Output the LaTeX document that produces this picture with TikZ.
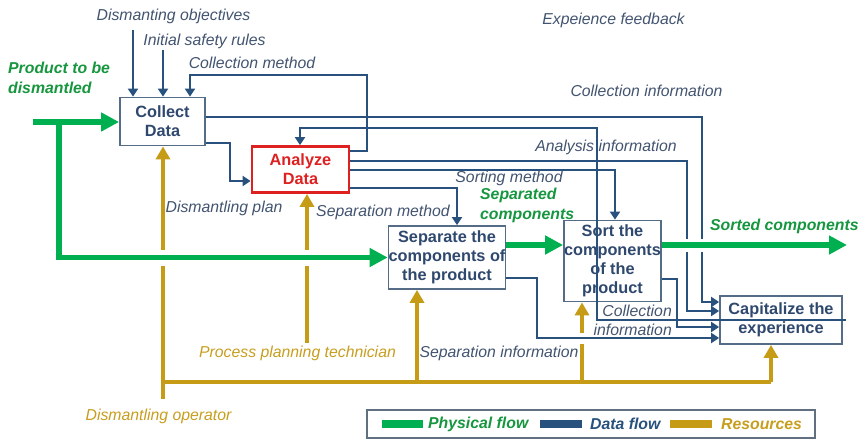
\documentclass[tikz,border=0pt]{standalone}
\usepackage{fontspec}
\setmainfont{Liberation Sans}
\usetikzlibrary{arrows.meta}
\definecolor{dblue}{RGB}{40,82,125}
\definecolor{labc}{RGB}{66,84,112}
\definecolor{boxc}{RGB}{84,108,134}
\definecolor{boxtext}{RGB}{47,72,110}
\definecolor{gline}{RGB}{0,176,80}
\definecolor{gtext}{RGB}{22,150,62}
\definecolor{gold}{RGB}{198,155,22}
\definecolor{goldtext}{RGB}{200,158,30}
\definecolor{redc}{RGB}{222,32,32}
\definecolor{legc}{RGB}{96,112,128}
\tikzset{
  lab/.style={font=\itshape\fontsize{15.8}{19}\selectfont, text=labc, inner sep=0pt},
  glab/.style={font=\bfseries\itshape\fontsize{15.8}{20}\selectfont, text=gtext, inner sep=0pt, align=left},
  rlab/.style={font=\itshape\fontsize{15.8}{19}\selectfont, text=goldtext, inner sep=0pt},
  box/.style={draw=boxc, line width=1.8pt, fill=white, align=center,
    font=\bfseries\fontsize{16.3}{19}\selectfont, text=boxtext, inner sep=0pt},
  data/.style={draw=dblue, line width=2.7pt, -{Triangle[length=8pt,width=10pt]}},
  res/.style={draw=gold, line width=4pt, -{Triangle[length=13pt,width=14pt]}},
  resline/.style={draw=gold, line width=4pt},
  phys/.style={draw=gline, line width=5.5pt, -{Triangle[length=18pt,width=18pt]}},
  legtext/.style={font=\bfseries\itshape\fontsize{15.8}{19}\selectfont, inner sep=0pt, anchor=west},
}
\begin{document}
\begin{tikzpicture}[x=1pt,y=-1pt]
\useasboundingbox (0,0) rectangle (860,439);
\fill[white] (0,0) rectangle (860,439);

% boxes
\node[box, minimum width=85pt, minimum height=48pt] (collect) at (162.5,121.5) {Collect\\Data};
\node[box, draw=redc, line width=2.8pt, text=redc, minimum width=97pt, minimum height=46pt] (analyze) at (300.5,169.5) {Analyze\\Data};
\node[box, minimum width=116pt, minimum height=63pt] (separate) at (447,257.5) {Separate the\\components of\\the product};
\node[box, minimum width=95pt, minimum height=81pt] (sort) at (612.5,261) {Sort the\\components\\of the\\product};
\node[box, minimum width=122pt, minimum height=48pt] (cap) at (781,320) {Capitalize the\\experience};

% coordinates
\coordinate (obj) at (133,30);
\coordinate (isr) at (163,50);
\coordinate (cm1) at (367,151);
\coordinate (cm2) at (190,75);
\coordinate (ci1) at (702,117);
\coordinate (ci2) at (702,302);
\coordinate (fb0) at (846,320);
\coordinate (fb1) at (597,128);
\coordinate (fb2) at (300,128);
\coordinate (ai1) at (687,161);
\coordinate (ai2) at (687,311);
\coordinate (sm1) at (615,170);
\coordinate (sp1) at (457,188);
\coordinate (ca1) at (230,143);
\coordinate (ca2) at (230,181);
\coordinate (si1) at (537,278);
\coordinate (si2) at (537,338);
\coordinate (sc1) at (677,279);
\coordinate (sc2) at (677,327);
\coordinate (op) at (163,399);
\coordinate (r1) at (163,382);
\coordinate (r2) at (771,382);
\coordinate (r3) at (417,382);
\coordinate (r4) at (582,382);
\coordinate (ppt) at (307,343);
\coordinate (g0) at (33,122);
\coordinate (g1) at (59,122);
\coordinate (g2) at (59,257.5);
\coordinate (g3) at (505,245);
\coordinate (g4) at (847,245);

% data flows
\draw[data] (obj) -- (obj |- collect.north);
\draw[data] (isr) -- (isr |- collect.north);
\draw[data] (analyze.east |- cm1) -- (cm1) |- (cm2) -- (cm2 |- collect.north);
\draw[data] (collect.east |- ci1) -- (ci1) -- (ci2) -- (cap.west |- ci2);
\draw[data] (analyze.east |- ai1) -- (ai1) -- (ai2) -- (cap.west |- ai2);
\draw[data] (analyze.east |- sm1) -- (sm1) -- (sm1 |- sort.north);
\draw[data] (analyze.east |- sp1) -- (sp1) -- (sp1 |- separate.north);
\draw[data] (collect.east |- ca1) -- (ca1) -- (ca2) -- (analyze.west |- ca2);
\draw[data] (sort.east |- sc1) -- (sc1) -- (sc2) -- (cap.west |- sc2);

% resources
\draw[res] (op) -- (op |- collect.south);
\draw[resline] (r1) -- (r2);
\draw[res] (r2) -- (r2 |- cap.south);
\draw[res] (r3) -- (r3 |- separate.south);
\draw[res] (r4) -- (r4 |- sort.south);
\draw[res] (ppt) -- (ppt |- analyze.south);

% separation information (over resources, with gap)
\draw[data, preaction={draw=white, line width=11pt, arrows=-, shorten <=6pt, shorten >=14pt}]
  (separate.east |- si1) -- (si1) -- (si2) -- (cap.west |- si2);

% feedback
\draw[data] (fb0) -- (fb0 -| fb1) -- (fb1) -- (fb2) -- (fb2 |- analyze.north);

% physical flows
\draw[phys, preaction={draw=white, line width=16pt, arrows=-, shorten <=40pt, shorten >=24pt}]
  (g1) -- (g2) -- (separate.west);
\draw[phys] (g0) -- (collect.west |- g0);
\draw[phys] (separate.east |- g3) -- (sort.west |- g3);
\draw[phys, preaction={draw=white, line width=13pt, arrows=-, shorten <=8pt, shorten >=24pt}]
  (sort.east |- g4) -- (g4);

% labels
\node[lab] (l1) at (173.5,16) {Dismanting objectives};
\node[lab] (l2) at (204.5,41) {Initial safety rules};
\node[lab] (l3) at (252,63) {Collection method};
\node[lab] (l4) at (613.5,20) {Expeience feedback};
\node[lab] (l5) at (646.5,91) {Collection information};
\node[lab] (l6) at (606,147) {Analysis information};
\node[lab] (l7) at (509,178) {Sorting method};
\node[lab] (l8) at (383,212) {Separation method};
\node[lab] (l9) at (224,208) {Dismantling plan};
\node[lab, align=right, anchor=east] (l10) at (672,320.5) {Collection\\information};
\node[lab] (l11) at (499,353) {Separation information};
\node[rlab] (l12) at (297.5,353) {Process planning technician};
\node[rlab] (l13) at (158.5,416) {Dismantling operator};
\node[glab, anchor=west] (l14) at (8,78) {Product to be\\dismantled};
\node[glab, anchor=west] (l15) at (480,205) {Separated\\components};
\node[glab, anchor=west] (l16) at (710,226) {Sorted components};

% legend
\node[draw=legc, line width=2pt, minimum width=448pt, minimum height=28pt, inner sep=0pt] (legend) at (591,424) {};
\draw[gline, line width=8pt] (382,424) -- (423,424);
\node[legtext, text=gtext] (lg1) at (428,424) {Physical flow};
\draw[dblue, line width=8pt] (540,424) -- (582,424);
\node[legtext, text=dblue] (lg2) at (590,424) {Data flow};
\draw[gold, line width=8pt] (670,424) -- (712,424);
\node[legtext, text=goldtext] (lg3) at (721,424) {Resources};
\end{tikzpicture}
\end{document}
